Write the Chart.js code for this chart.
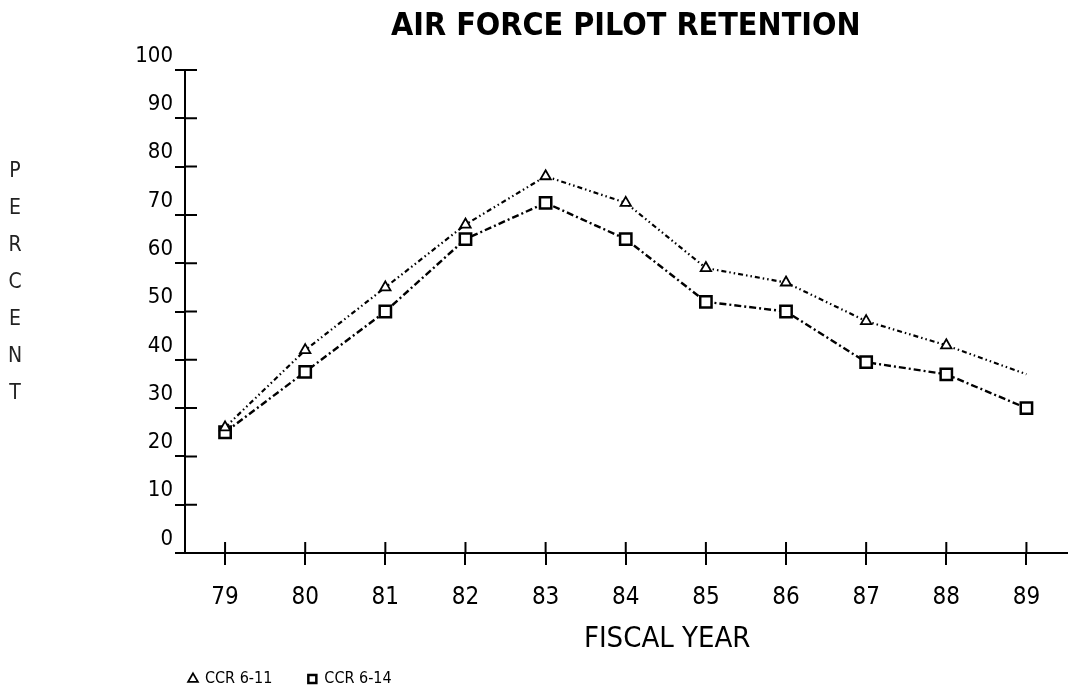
<!DOCTYPE html>
<html>
<head>
<meta charset="utf-8">
<script src="https://cdn.jsdelivr.net/npm/chart.js@4.4.1/dist/chart.umd.min.js"></script>
<style>
  html, body { margin: 0; padding: 0; background: #fff; }
  #wrap { position: relative; width: 1077px; height: 692px; overflow: hidden; }
  #ytitle {
    position: absolute; left: 4px; top: 152px; width: 22px;
    font-family: "DejaVu Sans Condensed", "DejaVu Sans", sans-serif;
    font-size: 21px; line-height: 37px; color: #222; text-align: center;
  }
</style>
</head>
<body>
<div id="wrap">
  <canvas id="c" width="1077" height="692"></canvas>
  <div id="ytitle"></div>
</div>
<script>
const chartTitle = 'AIR FORCE PILOT RETENTION';
const xAxisTitle = 'FISCAL YEAR';
const yAxisTitle = 'PERCENT';
const years = ['79', '80', '81', '82', '83', '84', '85', '86', '87', '88', '89'];
const yTicks = [0, 10, 20, 30, 40, 50, 60, 70, 80, 90, 100];
const seriesNames = ['CCR 6-11', 'CCR 6-14'];
const ccr611 = [26, 42, 55, 68, 78, 72.5, 59, 56, 48, 43, 37];
const ccr614 = [25, 37.5, 50, 65, 72.5, 65, 52, 50, 39.5, 37, 30];

document.getElementById('ytitle').innerHTML =
  yAxisTitle.split('').map(ch => '<div>' + ch + '</div>').join('');

const crossTicks = {
  id: 'crossTicks',
  afterDraw(chart) {
    const { ctx, scales: { x, y } } = chart;
    ctx.save();
    ctx.strokeStyle = '#000';
    ctx.lineWidth = 2;
    ctx.beginPath();
    y.ticks.forEach((t, i) => {
      const py = y.getPixelForTick(i);
      ctx.moveTo(y.right, py);
      ctx.lineTo(y.right + 12, py);
    });
    x.ticks.forEach((t, i) => {
      const px = x.getPixelForTick(i);
      ctx.moveTo(px, x.top);
      ctx.lineTo(px, x.top - 11);
    });
    ctx.stroke();
    ctx.restore();
  }
};

const cond = '"DejaVu Sans Condensed", "DejaVu Sans", sans-serif';

new Chart(document.getElementById('c'), {
  type: 'line',
  data: {
    labels: years,
    datasets: [
      {
        label: seriesNames[0],
        data: ccr611,
        borderColor: '#000',
        borderWidth: 2.2,
        borderDash: [5, 3, 1.5, 3, 1.5, 3],
        pointStyle: 'triangle',
        pointRadius: [6, 6, 6, 6, 6, 6, 6, 6, 6, 6, 0],
        pointBorderWidth: 1.8,
        pointBackgroundColor: '#fff',
        pointBorderColor: '#000',
        tension: 0
      },
      {
        label: seriesNames[1],
        data: ccr614,
        borderColor: '#000',
        borderWidth: 2.4,
        borderDash: [7, 3, 2, 3],
        pointStyle: 'rect',
        pointRadius: 8,
        pointBorderWidth: 2.5,
        pointBackgroundColor: '#fff',
        pointBorderColor: '#000',
        tension: 0
      }
    ]
  },
  options: {
    responsive: false,
    animation: false,
    layout: { padding: { left: 135, right: 0, top: 0, bottom: -5 } },
    plugins: {
      title: {
        display: true,
        text: chartTitle,
        fullSize: false,
        color: '#000',
        font: { family: cond, size: 32, weight: 'bold', lineHeight: 1 },
        padding: { top: 11, bottom: 27 }
      },
      legend: {
        display: true,
        position: 'bottom',
        align: 'start',
        fullSize: false,
        labels: {
          usePointStyle: true,
          color: '#000',
          boxWidth: 8,
          boxHeight: 8,
          padding: 4,
          font: { family: cond, size: 16 },
          generateLabels(chart) {
            const items = Chart.defaults.plugins.legend.labels.generateLabels(chart);
            return items.map((it, i) => Object.assign(it, { text: i < items.length - 1 ? it.text + '       ' : it.text }));
          }
        }
      },
      tooltip: { enabled: false }
    },
    scales: {
      x: {
        type: 'category',
        offset: true,
        border: { display: true, color: '#000', width: 2 },
        grid: { display: true, drawOnChartArea: false, drawTicks: true, tickLength: 12, color: '#000', lineWidth: 2, offset: false },
        ticks: { color: '#000', padding: 21, font: { family: cond, size: 24, lineHeight: 1 }, maxRotation: 0 },
        title: {
          display: true,
          text: '          ' + xAxisTitle,
          color: '#000',
          font: { family: cond, size: 29, lineHeight: 1 },
          padding: { top: -6, bottom: 13 }
        }
      },
      y: {
        type: 'linear',
        min: 0,
        max: 100,
        afterBuildTicks(scale) { scale.ticks = yTicks.map(v => ({ value: v })); },
        afterFit(scale) { scale.width = 50; },
        border: { display: true, color: '#000', width: 2 },
        grid: { display: true, drawOnChartArea: false, drawTicks: true, tickLength: 10, color: '#000', lineWidth: 2 },
        ticks: { color: '#000', padding: 2, labelOffset: -14, font: { family: cond, size: 22 } },
        title: { display: false }
      }
    }
  },
  plugins: [crossTicks]
});
</script>
</body>
</html>
